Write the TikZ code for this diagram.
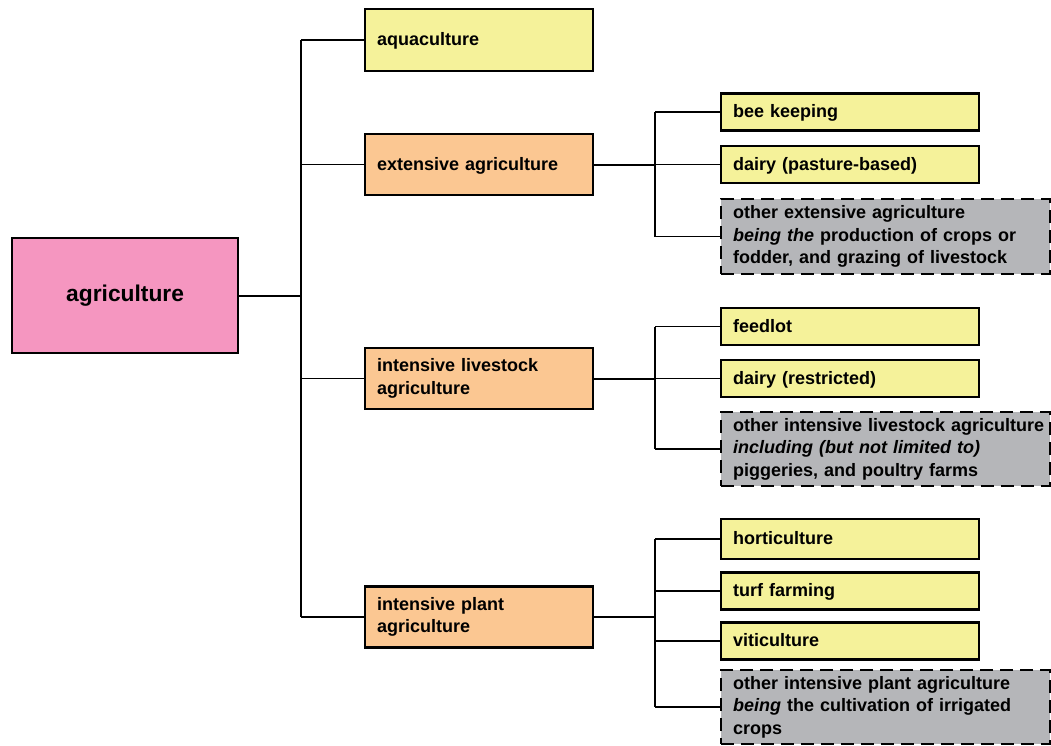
\documentclass[tikz,border=0pt]{standalone}
\usepackage{fontspec}
\setmainfont{Liberation Sans}
\usepackage{tikz}
\definecolor{RootPink}{HTML}{F596C0}
\definecolor{MidPeach}{HTML}{FBC792}
\definecolor{LeafYellow}{HTML}{F5F29A}
\definecolor{OtherGray}{HTML}{B5B6B9}

\begin{document}
\begin{tikzpicture}[x=1pt,y=-1pt,
  every node/.style={font=\fontsize{18}{22.5}\selectfont\bfseries},
  boxbase/.style={draw=black, line width=2.2pt, anchor=west, inner xsep=0pt, inner ysep=0pt,
    align=left, execute at begin node={\leftskip=12pt\relax}},
  rootbox/.style={draw=black, line width=2.2pt, anchor=west, fill=RootPink, text width=226pt,
    minimum height=115pt, inner xsep=0pt, align=center, font=\fontsize{22.8}{27}\selectfont\bfseries},
  midbox/.style={boxbase, fill=MidPeach, text width=228pt, minimum height=61pt},
  aquabox/.style={boxbase, fill=LeafYellow, text width=228pt, minimum height=62pt, text depth=2pt},
  leafbox/.style={boxbase, fill=LeafYellow, text width=258pt, minimum height=37pt, text depth=2pt},
  otherbox/.style={boxbase, fill=OtherGray, text width=329pt, minimum height=75pt, dash pattern=on 13pt off 7pt},
  link/.style={draw=black, line width=1.3pt},
  stem/.style={draw=black, line width=2pt}]
  \useasboundingbox (0,0) rectangle (1051,745);

  \node[rootbox] (agri) at (11,295.5) {agriculture};
  \node[aquabox] (aqua) at (364,40) {aquaculture};
  \node[midbox, text depth=2pt] (ext) at (364,164.5) {extensive agriculture};
  \node[midbox] (live) at (364,378.5) {intensive livestock\\agriculture};
  \node[midbox] (plant) at (364,617) {intensive plant\\agriculture};

  \node[leafbox] (bee) at (720,112) {bee keeping};
  \node[leafbox] (dairyP) at (720,164.5) {dairy (pasture-based)};
  \node[otherbox] (otherExt) at (720,236.5) {other extensive agriculture\\\textit{being the} production of crops or\\fodder, and grazing of livestock};

  \node[leafbox] (feedlot) at (720,326.5) {feedlot};
  \node[leafbox] (dairyR) at (720,378.5) {dairy (restricted)};
  \node[otherbox, minimum height=74pt] (otherLive) at (720,449) {other intensive livestock agriculture\\\textit{including (but not limited to)}\\piggeries, and poultry farms};

  \node[leafbox, minimum height=40pt] (hort) at (720,539) {horticulture};
  \node[leafbox] (turf) at (720,591) {turf farming};
  \node[leafbox] (viti) at (720,641) {viticulture};
  \node[otherbox, minimum height=74pt] (otherPlant) at (720,707) {other intensive plant agriculture\\\textit{being} the cultivation of irrigated\\crops};

  \coordinate (trunk) at (301,0);
  \coordinate (fork) at (655,0);

  \draw[stem] (agri.east) -- (agri.east -| trunk);
  \draw[link] (aqua.west -| trunk) -- (plant.west -| trunk);
  \foreach \n in {aqua,ext,live,plant}
    \draw[link] (\n.west -| trunk) -- (\n.west);

  \foreach \m/\first/\last in {ext/bee/otherExt, live/feedlot/otherLive, plant/hort/otherPlant} {
    \draw[stem] (\m.east) -- (\m.east -| fork);
    \draw[link] (\first.west -| fork) -- (\last.west -| fork);
  }
  \foreach \n in {bee,dairyP,otherExt,feedlot,dairyR,otherLive,hort,turf,viti,otherPlant}
    \draw[link] (\n.west -| fork) -- (\n.west);
\end{tikzpicture}
\end{document}
